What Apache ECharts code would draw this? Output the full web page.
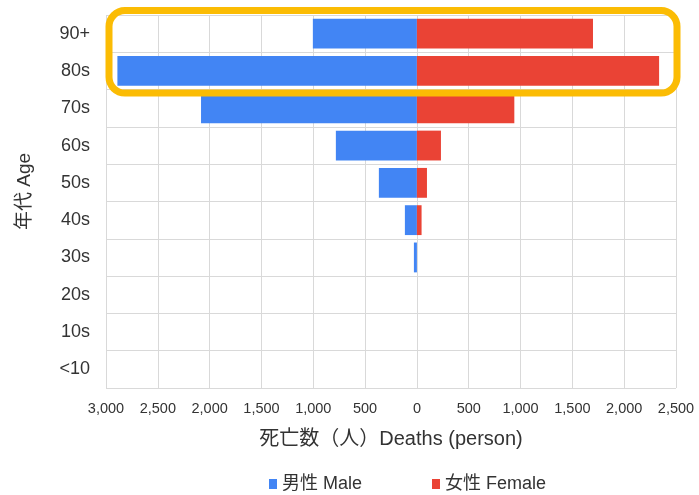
<!DOCTYPE html>
<html><head><meta charset="utf-8">
<script src="https://cdn.jsdelivr.net/npm/echarts@6/dist/echarts.min.js"></script>
<style>html,body{margin:0;padding:0;background:#fff}#c{width:699px;height:495px}</style>
</head><body><div id="c"></div>
<script>
const categories = ['<10','10s','20s','30s','40s','50s','60s','70s','80s','90+'];
const maleDeaths = [0, 0, 0, 29, 116, 367, 782, 2083, 2890, 1004];
const femaleDeaths = [0, 0, 0, 0, 45, 97, 232, 940, 2337, 1699];
const highlighted = ['80s', '90+'];
const xMin = -3000, xMax = 2500, xStep = 500;

const font = '"Liberation Sans","Noto Sans CJK JP",Arial,sans-serif';
const chart = echarts.init(document.getElementById('c'), null, {renderer:'canvas'});
const fmt = v => Math.abs(v).toLocaleString('en-US');
chart.setOption({
  animation:false,
  textStyle:{fontFamily:font},
  grid:{left:106,right:23,top:15,bottom:107},
  legend:{
    bottom:-3, left:264, itemGap:70, itemWidth:8, itemHeight:10,
    icon:'rect',
    textStyle:{fontSize:18,color:'#333',fontFamily:font},
    data:['男性 Male','女性 Female']
  },
  xAxis:{
    type:'value', min:xMin, max:xMax, interval:xStep,
    axisLine:{show:false}, axisTick:{show:false},
    axisLabel:{formatter:fmt, fontSize:14.5, color:'#333', margin:14, fontFamily:font},
    splitLine:{lineStyle:{color:'#d9d9d9',width:1}},
    name:'死亡数（人）Deaths (person)', nameLocation:'middle', nameGap:41,
    nameTextStyle:{fontSize:20,color:'#333',fontFamily:font}
  },
  yAxis:{
    type:'category', data:categories,
    axisLine:{show:false}, axisTick:{show:false},
    axisLabel:{fontSize:18,color:'#333',margin:16,fontFamily:font},
    splitLine:{show:true,lineStyle:{color:'#d9d9d9',width:1}},
    name:'年代 Age', nameLocation:'middle', nameGap:72, nameRotate:90,
    nameTextStyle:{fontSize:19,color:'#333',fontFamily:font,padding:[0,0,0,20]}
  },
  series:[
    {name:'男性 Male', type:'bar', data:maleDeaths.map(v=>-v), barCategoryGap:'20%', barGap:'-100%',
     itemStyle:{color:'#4285F4'}},
    {name:'女性 Female', type:'bar', data:femaleDeaths, barCategoryGap:'20%',
     itemStyle:{color:'#EA4335'}}
  ]
});
// highlight box around selected rows, located via the axes
const gridRect = chart.getModel().getComponent('grid',0).coordinateSystem.getRect();
const yTop = chart.convertToPixel({yAxisIndex:0}, highlighted[highlighted.length-1]);
const yBot = chart.convertToPixel({yAxisIndex:0}, highlighted[0]);
const half = gridRect.height / categories.length / 2;
const lw = 7;
chart.setOption({graphic:[{
  type:'rect', z:100,
  shape:{x:gridRect.x+3, y:yTop-half-4.5, width:gridRect.width-2, height:(yBot-yTop)+2*half+4.5+3.5, r:16},
  style:{fill:null, stroke:'#FBBC04', lineWidth:lw}
}]});
</script></body></html>
